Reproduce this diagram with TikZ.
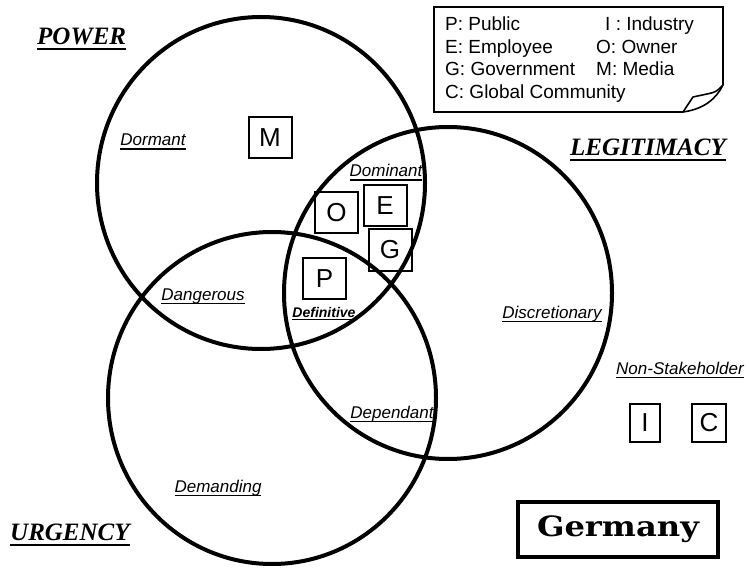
\documentclass[tikz,border=0pt]{standalone}
\usepackage{fontspec}
\setmainfont{Liberation Serif}
\newfontfamily\sansfam{Liberation Sans}
\newfontfamily\slabfam{DejaVu Serif}
% underlined text: #1 gap below baseline, #2 rule thickness, #3 text
\newsavebox\ulsave
\newcommand\ultext[3]{\sbox\ulsave{#3}\rlap{\usebox\ulsave}\rule[\dimexpr-#1-#2\relax]{\wd\ulsave}{#2}}
\begin{document}
\begin{tikzpicture}[x=1pt,y=-1pt,
  ring/.style={line width=4pt},
  attribute/.style={font=\fontsize{25}{30}\selectfont\bfseries\itshape, inner sep=0, anchor=base west},
  zone/.style={font=\sansfam\itshape\fontsize{17}{20}\selectfont, inner sep=0, anchor=base},
  member/.style={draw, line width=2pt, font=\sansfam\fontsize{26}{30}\selectfont,
    minimum width=43pt, minimum height=41pt, inner sep=0},
  smallmember/.style={member, minimum height=38pt},
  keytext/.style={font=\sansfam\fontsize{19}{22}\selectfont, inner sep=0, anchor=base west}]
\useasboundingbox (0,0) rectangle (749,569);

% the three attribute circles
\coordinate (powc) at (261,183);
\coordinate (legc) at (448,293);
\coordinate (urgc) at (272,398);
\draw[ring] (powc) ellipse [x radius=164, y radius=166];
\draw[ring] (legc) ellipse [x radius=164, y radius=166];
\draw[ring] (urgc) ellipse [x radius=164, y radius=166];

% attribute titles
\node[attribute] (power) at (37,45) {\ultext{3.5pt}{2pt}{POWER}};
\node[attribute] (legit) at (570,156) {\ultext{3.5pt}{2pt}{LEGITIMACY}};
\node[attribute] (urg) at (10,540) {\ultext{3.5pt}{2pt}{URGENCY}};

% stakeholder classes
\node[zone] (dormant) at (153,146) {\ultext{2.5pt}{1.4pt}{Dormant}};
\node[zone] (dominant) at (386,177) {\ultext{2.5pt}{1.4pt}{Dominant}};
\node[zone] (dangerous) at (203,300) {\ultext{2.5pt}{1.4pt}{Dangerous}};
\node[zone, font=\sansfam\bfseries\itshape\fontsize{14}{16}\selectfont] (definitive) at (324,317) {\ultext{2pt}{1.4pt}{Definitive}};
\node[zone] (discretionary) at (552,318) {\ultext{2.5pt}{1.4pt}{Discretionary}};
\node[zone] (dependant) at (392,418) {\ultext{2.5pt}{1.4pt}{Dependant}};
\node[zone] (demanding) at (218,492) {\ultext{2.5pt}{1.4pt}{Demanding}};
\node[zone] (nonstake) at (680,374) {\ultext{2.5pt}{1.4pt}{Non-Stakeholder}};

% stakeholders
\node[member] (m) at (270,138) {M};
\node[member] (o) at (336.5,213) {O};
\node[member] (e) at (385,206) {E};
\node[member] (g) at (390,250) {G};
\node[member] (p) at (324.5,278.5) {P};
\node[smallmember, minimum width=30pt] (i) at (645,423) {I};
\node[smallmember, minimum width=34pt] (c) at (709,423) {C};

% key with a curled corner
\draw[line width=2pt, line join=miter] (683,112) -- (434,112) -- (434,7) -- (723,7) -- (723,85);
\draw[line width=1.6pt, line join=round] (683,112) -- (693,97) -- (707,94) .. controls (716,92) .. (723,85);
\draw[line width=1.6pt] (683,112) .. controls (704,109) and (716,99) .. (723,85);
\node[keytext] (kp) at (445,31) {P: Public};
\node[keytext] (ke) at (445,54) {E: Employee};
\node[keytext] (kg) at (445,76) {G: Government};
\node[keytext] (kc) at (445,99) {C: Global Community};
\node[keytext] (ki) at (605,31) {I : Industry};
\node[keytext] (ko) at (596,54) {O: Owner};
\node[keytext] (km) at (596,76) {M: Media};

% country tag
\node[draw, line width=3.2pt, minimum width=200pt, minimum height=55pt, inner sep=0,
  font=\slabfam\bfseries\fontsize{28}{32}\selectfont] (country) at (618,529.5) {\scalebox{1.15}[1]{Germany}};
\end{tikzpicture}
\end{document}
